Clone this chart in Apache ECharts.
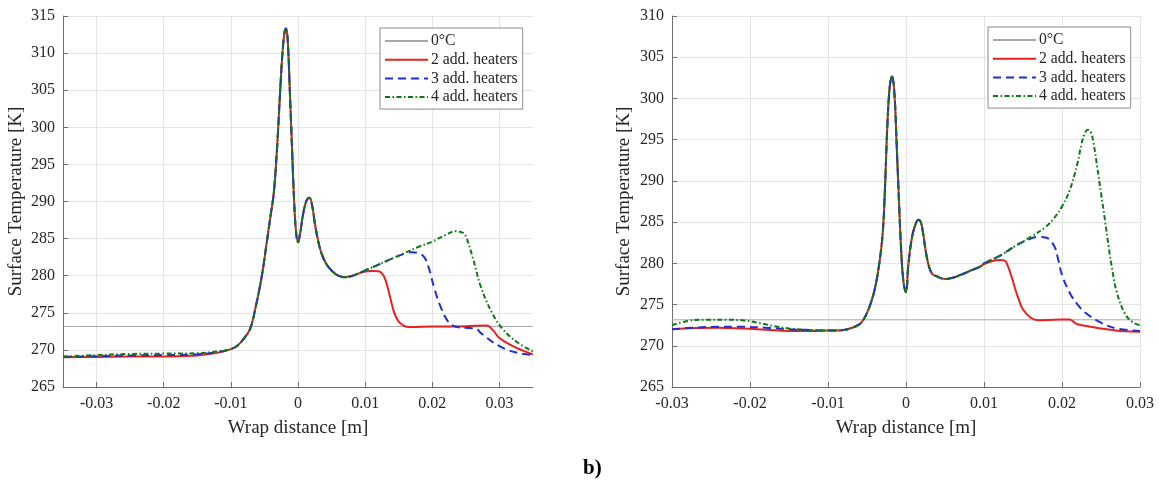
<!DOCTYPE html>
<html><head><meta charset="utf-8">
<script src="https://cdn.jsdelivr.net/npm/echarts@6/dist/echarts.min.js"></script>
<style>html,body{margin:0;padding:0;background:#fff}#c{width:1159px;height:487px}</style>
</head><body><div id="c"></div>
<script>
// ---------- names / ticks ----------
const seriesNames = ['0°C', '2 add. heaters', '3 add. heaters', '4 add. heaters'];
const zeroC = 273.15;
const xTicks = [-0.03, -0.02, -0.01, 0, 0.01, 0.02, 0.03];
const leftXRange = [-0.035, 0.035];
const leftYRange = [265, 315];
const rightXRange = [-0.03, 0.03];
const rightYRange = [265, 310];

// ---------- left panel ----------
const leftCoreX = [-0.01, -0.009, -0.008, -0.0071, -0.0063, -0.0054, -0.0047, -0.0041, -0.0036, -0.0031, -0.0027, -0.0023, -0.002, -0.0018, -0.0016, -0.0014, -0.0012, -0.0009, -0.0006, -0.0003, 0.0, 0.0003, 0.0008, 0.0013, 0.0017, 0.0021, 0.0025, 0.003, 0.0035, 0.0042, 0.005, 0.006, 0.007, 0.008, 0.009];
const leftCoreT = [270.1, 270.6, 271.6, 272.9, 275.8, 279.9, 284.2, 288.0, 291.2, 297.5, 304.2, 310.2, 312.8, 313.3, 312.5, 309.3, 304.5, 297.5, 290.5, 286.0, 284.5, 285.6, 288.5, 290.2, 290.5, 289.5, 287.1, 284.7, 283.0, 281.6, 280.7, 280.0, 279.8, 279.95, 280.3];

const leftHeadX = [-0.035, -0.03, -0.025, -0.02, -0.015, -0.012];
const leftRedHeadT = [269.0, 269.05, 269.1, 269.1, 269.25, 269.6];
const leftBlueHeadT = [269.05, 269.15, 269.25, 269.3, 269.4, 269.7];
const leftGreenHeadT = [269.1, 269.3, 269.45, 269.5, 269.55, 269.8];

const leftRedTailX = [0.010, 0.011, 0.012, 0.0125, 0.013, 0.0137, 0.0143, 0.015, 0.0158, 0.0165, 0.02, 0.025, 0.0281, 0.029, 0.030, 0.032, 0.0335, 0.035];
const leftRedTailT = [280.55, 280.65, 280.6, 280.3, 279.5, 277.2, 275.1, 273.8, 273.25, 273.1, 273.15, 273.2, 273.3, 272.7, 271.6, 270.5, 269.9, 269.4];
const leftBlueTailX = [0.010, 0.012, 0.014, 0.016, 0.017, 0.018, 0.0188, 0.0195, 0.0203, 0.0212, 0.0223, 0.0234, 0.0255, 0.0265, 0.0272, 0.030, 0.0327, 0.035];
const leftBlueTailT = [280.7, 281.5, 282.3, 283.0, 283.15, 283.0, 282.5, 281.0, 278.3, 275.9, 273.9, 273.15, 272.95, 272.9, 272.3, 270.5, 269.6, 269.3];
const leftGreenTailX = [0.010, 0.012, 0.014, 0.016, 0.018, 0.020, 0.022, 0.0235, 0.0245, 0.025, 0.0261, 0.0272, 0.0289, 0.0305, 0.0327, 0.035];
const leftGreenTailT = [280.7, 281.5, 282.3, 283.1, 283.9, 284.6, 285.5, 286.0, 285.8, 285.3, 282.2, 278.6, 275.0, 272.8, 271.0, 269.8];

// ---------- right panel ----------
const rightCoreX = [-0.008, -0.007, -0.006, -0.0055, -0.005, -0.0045, -0.004, -0.0035, -0.003, -0.0027, -0.0024, -0.0021, -0.0018, -0.0015, -0.0012, -0.0009, -0.0006, -0.0003, 0.0, 0.0003, 0.0007, 0.0011, 0.0016, 0.0019, 0.0022, 0.0027, 0.0033, 0.004, 0.005, 0.006, 0.007, 0.0085, 0.0095];
const rightCoreT = [271.9, 272.15, 272.6, 273.1, 274.0, 275.2, 276.9, 279.5, 283.5, 289.0, 296.5, 301.3, 302.7, 300.8, 294.5, 287.5, 281.2, 277.6, 276.5, 279.8, 282.8, 284.4, 285.3, 285.0, 283.6, 280.6, 278.8, 278.4, 278.1, 278.25, 278.6, 279.2, 279.6];

const rightRedHeadX = [-0.03, -0.027, -0.024, -0.021, -0.018, -0.015, -0.012, -0.01, -0.009];
const rightRedHeadT = [272.0, 272.15, 272.2, 272.1, 271.95, 271.8, 271.8, 271.85, 271.85];
const rightBlueHeadX = [-0.03, -0.027, -0.024, -0.021, -0.018, -0.015, -0.012, -0.01, -0.009];
const rightBlueHeadT = [272.0, 272.2, 272.3, 272.3, 272.2, 272.0, 271.9, 271.85, 271.85];
const rightGreenHeadX = [-0.03, -0.028, -0.026, -0.023, -0.021, -0.019, -0.017, -0.015, -0.013, -0.011, -0.009];
const rightGreenHeadT = [272.5, 273.0, 273.15, 273.15, 273.1, 272.8, 272.4, 272.1, 271.95, 271.85, 271.85];

const rightRedTailX = [0.010, 0.011, 0.012, 0.0127, 0.013, 0.0135, 0.014, 0.0145, 0.015, 0.016, 0.017, 0.019, 0.021, 0.0215, 0.022, 0.025, 0.028, 0.030];
const rightRedTailT = [279.9, 280.25, 280.4, 280.3, 279.8, 278.5, 276.9, 275.5, 274.4, 273.4, 273.1, 273.15, 273.2, 272.9, 272.6, 272.1, 271.75, 271.7];
const rightBlueTailX = [0.010, 0.012, 0.014, 0.016, 0.017, 0.018, 0.019, 0.0195, 0.020, 0.021, 0.022, 0.023, 0.025, 0.027, 0.030];
const rightBlueTailT = [280.0, 280.9, 282.1, 283.0, 283.2, 283.1, 282.1, 280.5, 278.6, 276.4, 275.0, 274.0, 272.8, 272.1, 271.8];
const rightGreenTailX = [0.010, 0.012, 0.014, 0.016, 0.018, 0.019, 0.020, 0.021, 0.022, 0.0225, 0.023, 0.0233, 0.0237, 0.024, 0.0245, 0.025, 0.0255, 0.026, 0.0265, 0.027, 0.028, 0.029, 0.030];
const rightGreenTailT = [280.0, 280.9, 282.1, 283.2, 284.5, 285.5, 286.9, 288.9, 292.2, 294.5, 295.9, 296.2, 295.9, 294.8, 291.8, 288.5, 285.3, 281.9, 278.9, 276.6, 274.0, 272.9, 272.5];

// ---------- build ----------
const zip = (xs, ys) => xs.map((x, i) => [x, ys[i]]);
const join = (...parts) => [].concat(...parts);

const FONT = '"Liberation Serif", "Times New Roman", serif';
const TXT = '#262626';
const styles = [
  { color: '#a6a6a6', width: 1, type: 'solid' },
  { color: '#e8201e', width: 2, type: 'solid' },
  { color: '#1f2fd6', width: 2, type: [8, 5] },
  { color: '#0b7a12', width: 2, type: [5, 2.5, 1.5, 2.5] }
];

function xAxisFor(gi, range) {
  return {
    type: 'value', gridIndex: gi, min: range[0], max: range[1],
    name: 'Wrap distance [m]', nameLocation: 'middle', nameGap: 32,
    nameTextStyle: { fontFamily: FONT, fontSize: 19, color: TXT },
    axisLine: { onZero: false, lineStyle: { color: '#6e6e6e', width: 1 } },
    axisTick: { inside: true, length: 5, customValues: xTicks, lineStyle: { color: '#6e6e6e' } },
    axisLabel: { customValues: xTicks, fontFamily: FONT, fontSize: 16, color: TXT, margin: 9,
      formatter: v => String(Math.round(v * 1000) / 1000) },
    splitLine: { show: true, lineStyle: { color: '#e4e4e4', width: 1 } }
  };
}
function yAxisFor(gi, range, gap) {
  return {
    type: 'value', gridIndex: gi, min: range[0], max: range[1], interval: 5,
    name: 'Surface Temperature [K]', nameLocation: 'middle', nameGap: gap,
    nameTextStyle: { fontFamily: FONT, fontSize: 19, color: TXT },
    axisLine: { show: true, onZero: false, lineStyle: { color: '#6e6e6e', width: 1 } },
    axisTick: { show: true, inside: true, length: 5, lineStyle: { color: '#6e6e6e' } },
    axisLabel: { fontFamily: FONT, fontSize: 16, color: TXT, margin: 8 },
    splitLine: { show: true, lineStyle: { color: '#e4e4e4', width: 1 } }
  };
}
function line(name, idx, gi, data) {
  return {
    name: name, type: 'line', xAxisIndex: gi, yAxisIndex: gi, data: data,
    showSymbol: false, symbol: 'none', smooth: 0.4,
    lineStyle: styles[idx], itemStyle: { color: styles[idx].color },
    animation: false, z: 2 + idx
  };
}

const series = [
  line(seriesNames[0], 0, 0, [[leftXRange[0], zeroC], [leftXRange[1], zeroC]]),
  line(seriesNames[1], 1, 0, zip(join(leftHeadX, leftCoreX, leftRedTailX), join(leftRedHeadT, leftCoreT, leftRedTailT))),
  line(seriesNames[2], 2, 0, zip(join(leftHeadX, leftCoreX, leftBlueTailX), join(leftBlueHeadT, leftCoreT, leftBlueTailT))),
  line(seriesNames[3], 3, 0, zip(join(leftHeadX, leftCoreX, leftGreenTailX), join(leftGreenHeadT, leftCoreT, leftGreenTailT))),
  line(seriesNames[0], 0, 1, [[rightXRange[0], zeroC], [rightXRange[1], zeroC]]),
  line(seriesNames[1], 1, 1, zip(join(rightRedHeadX, rightCoreX, rightRedTailX), join(rightRedHeadT, rightCoreT, rightRedTailT))),
  line(seriesNames[2], 2, 1, zip(join(rightBlueHeadX, rightCoreX, rightBlueTailX), join(rightBlueHeadT, rightCoreT, rightBlueTailT))),
  line(seriesNames[3], 3, 1, zip(join(rightGreenHeadX, rightCoreX, rightGreenTailX), join(rightGreenHeadT, rightCoreT, rightGreenTailT)))
];

function legendAt(left, top) {
  return {
    data: seriesNames, orient: 'vertical', left: left, top: top,
    itemWidth: 43, itemHeight: 14, itemGap: 2.7,
    itemStyle: { opacity: 0 },
    padding: [5, 5, 4, 4], borderColor: '#8a8a8a', borderWidth: 1, backgroundColor: '#fff',
    textStyle: { fontFamily: FONT, fontSize: 15.7, lineHeight: 16, color: TXT, padding: [0, 0, 0, -2] },
    selectedMode: false
  };
}

const chart = echarts.init(document.getElementById('c'), null, { renderer: 'canvas' });
chart.setOption({
  backgroundColor: '#ffffff',
  animation: false,
  grid: [
    { left: 63, top: 16, width: 470, height: 371 },
    { left: 672, top: 16, width: 468, height: 371 }
  ],
  xAxis: [xAxisFor(0, leftXRange), xAxisFor(1, rightXRange)],
  yAxis: [yAxisFor(0, leftYRange, 37), yAxisFor(1, rightYRange, 38)],
  legend: [legendAt(380, 28), legendAt(988, 27)],
  graphic: [{ type: 'text', left: 583, top: 458,
    style: { text: 'b)', font: 'bold 21px "Liberation Serif", serif', fill: '#000' } }],
  series: series
});
</script>
</body></html>
